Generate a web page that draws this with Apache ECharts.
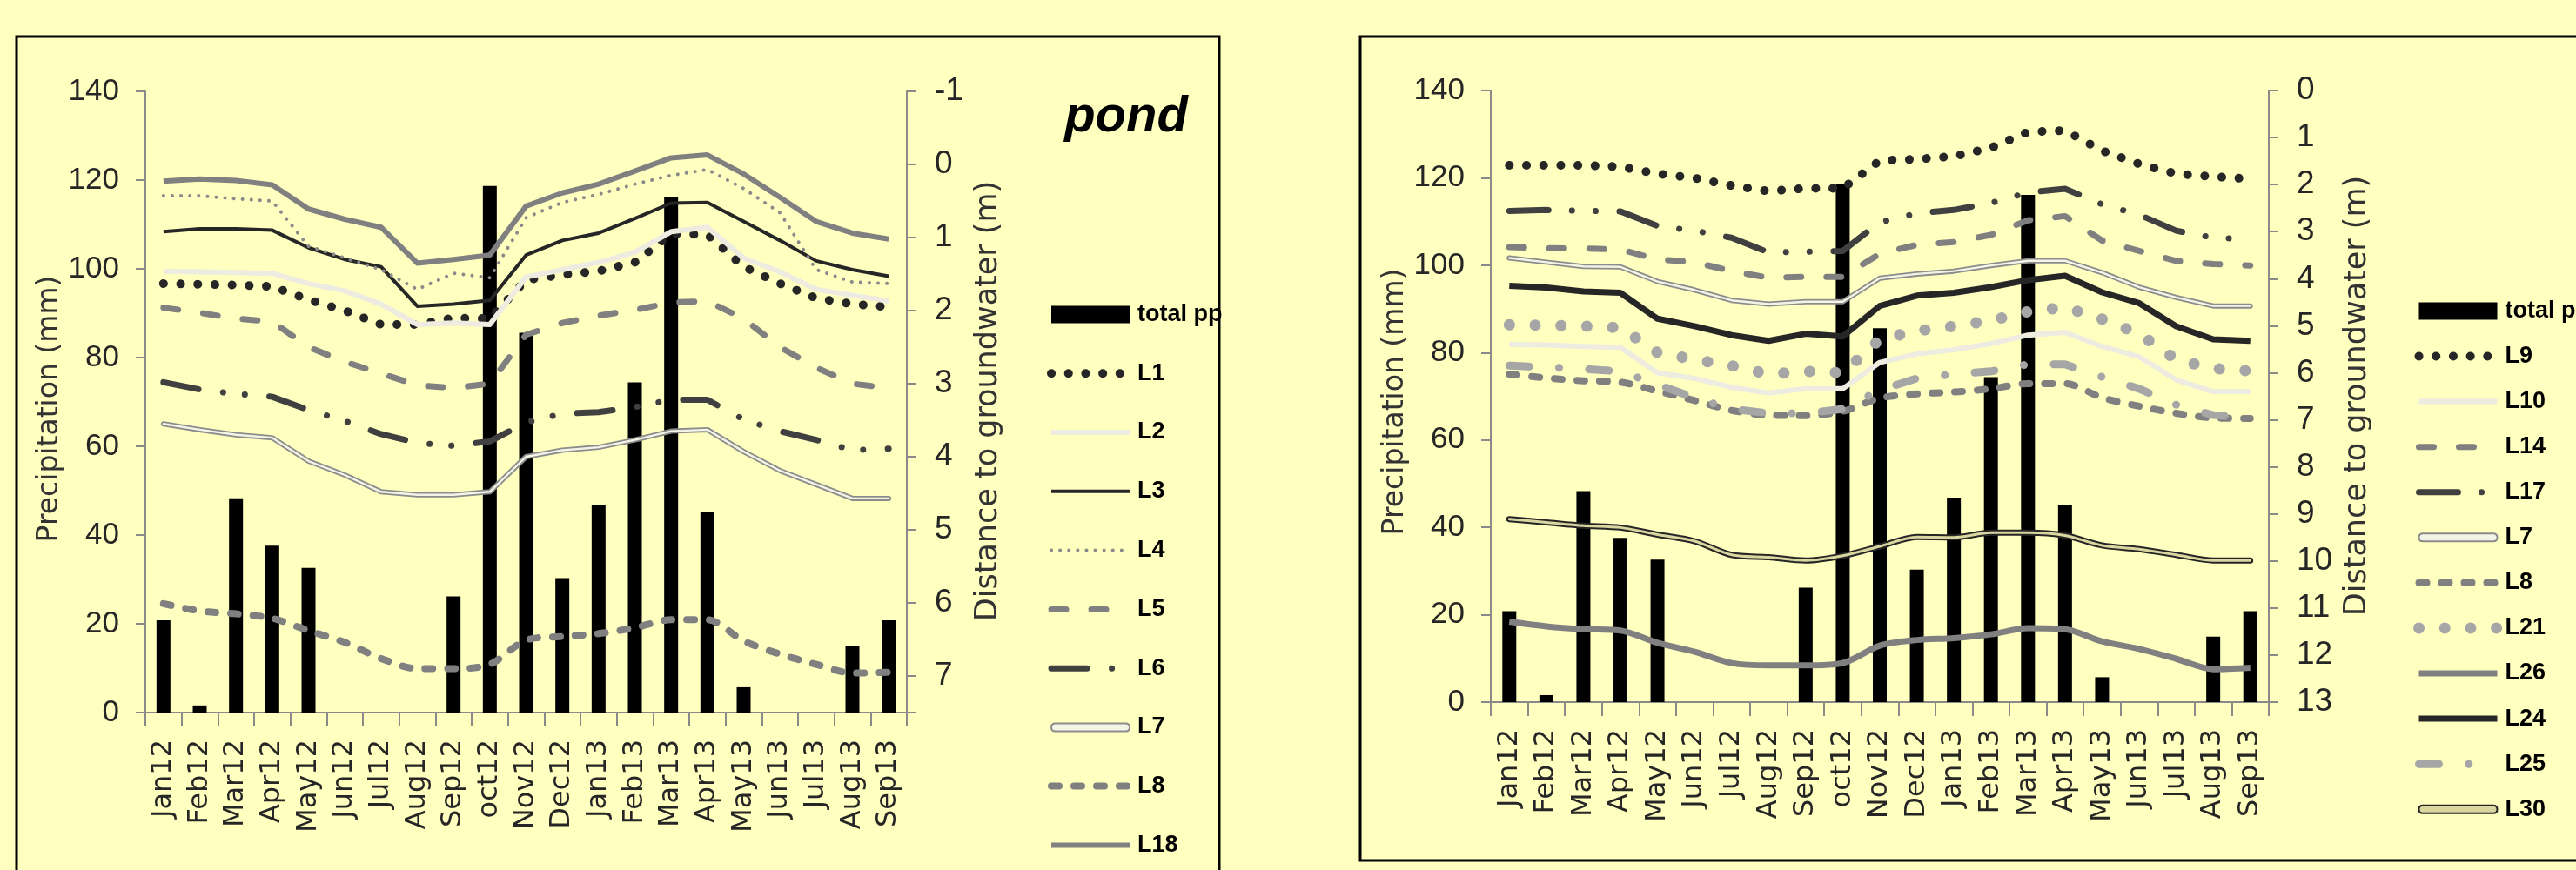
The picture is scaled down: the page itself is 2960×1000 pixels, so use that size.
<!DOCTYPE html>
<html>
<head>
<meta charset="utf-8">
<script src="https://cdn.jsdelivr.net/npm/echarts@6/dist/echarts.min.js"></script>
<style>
html,body{margin:0;padding:0;background:#FFFFC0;}
#chart{width:2960px;height:1000px;}
</style>
</head>
<body>
<div id="chart"></div>
<script>
// ---------------- DATA ----------------
const categories = ['Jan12','Feb12','Mar12','Apr12','May12','Jun12','Jul12','Aug12','Sep12','oct12','Nov12','Dec12','Jan13','Feb13','Mar13','Apr13','May13','Jun13','Jul13','Aug13','Sep13'];

// total precipitation (mm)
const totalPP = [20.8,1.6,48.3,37.6,32.6,0,0,0,26.2,118.7,85.6,30.3,46.8,74.4,116.1,45.1,5.7,0,0,15.0,20.8];

// tick labels
const precipTicks = [0,20,40,60,80,100,120,140];
const pondDepthTicks = [-1,0,1,2,3,4,5,6,7];
const pondDepthMax = 7.5;
const siteDepthTicks = [0,1,2,3,4,5,6,7,8,9,10,11,12,13];

// pond panel: distance to groundwater (m)
const pondL1  = [1.63,1.64,1.65,1.67,1.85,2.00,2.19,2.19,2.10,2.11,1.58,1.51,1.46,1.34,0.95,0.96,1.40,1.63,1.83,1.91,1.95];
const pondL2  = [1.46,1.47,1.48,1.49,1.63,1.73,1.91,2.19,2.17,2.19,1.54,1.44,1.34,1.20,0.92,0.86,1.28,1.47,1.71,1.79,1.87];
const pondL3  = [0.92,0.88,0.88,0.90,1.14,1.30,1.40,1.94,1.91,1.86,1.24,1.04,0.94,0.74,0.53,0.52,0.78,1.04,1.32,1.44,1.53];
const pondL4  = [0.43,0.43,0.47,0.50,1.12,1.28,1.44,1.71,1.49,1.55,0.73,0.52,0.41,0.27,0.15,0.07,0.33,0.66,1.44,1.61,1.63];
const pondL5  = [1.96,2.03,2.11,2.15,2.50,2.70,2.86,3.02,3.06,3.00,2.33,2.17,2.07,1.99,1.89,1.87,2.11,2.50,2.78,3.00,3.06];
const pondL6  = [2.98,3.08,3.14,3.18,3.36,3.51,3.69,3.81,3.85,3.79,3.53,3.41,3.39,3.32,3.22,3.22,3.49,3.65,3.77,3.91,3.89];
const pondL7  = [3.55,3.63,3.70,3.74,4.06,4.25,4.48,4.52,4.52,4.48,4.00,3.91,3.87,3.77,3.65,3.63,3.93,4.19,4.38,4.57,4.57];
const pondL8  = [6.01,6.11,6.15,6.21,6.38,6.54,6.76,6.90,6.90,6.84,6.51,6.46,6.42,6.34,6.23,6.23,6.52,6.70,6.84,6.96,6.95];
const pondL18 = [0.23,0.20,0.22,0.28,0.61,0.75,0.86,1.35,1.30,1.24,0.57,0.39,0.27,0.09,-0.09,-0.13,0.13,0.45,0.78,0.94,1.02];

// second panel: distance to groundwater (m)
const siteL9  = [1.59,1.59,1.59,1.62,1.77,1.86,2.02,2.14,2.08,2.08,1.49,1.46,1.40,1.22,0.88,0.85,1.28,1.56,1.77,1.83,1.88];
const siteL10 = [5.40,5.41,5.44,5.46,6.00,6.12,6.31,6.43,6.34,6.34,5.78,5.60,5.51,5.38,5.20,5.14,5.44,5.66,6.15,6.40,6.40];
const siteL14 = [3.33,3.35,3.36,3.38,3.59,3.65,3.84,3.98,3.96,3.96,3.47,3.28,3.22,3.07,2.76,2.67,3.19,3.41,3.62,3.69,3.72];
const siteL17 = [2.56,2.54,2.56,2.57,2.88,2.98,3.13,3.44,3.43,3.41,2.80,2.61,2.54,2.39,2.17,2.09,2.42,2.64,2.98,3.13,3.16];
const siteL7  = [3.56,3.65,3.74,3.75,4.06,4.24,4.46,4.54,4.49,4.49,3.99,3.90,3.84,3.72,3.62,3.62,3.87,4.18,4.40,4.58,4.58];
const siteL8  = [6.03,6.11,6.17,6.20,6.39,6.59,6.80,6.90,6.91,6.82,6.54,6.45,6.41,6.34,6.23,6.23,6.53,6.71,6.86,6.96,6.97];
const siteL21 = [4.98,4.99,5.01,5.04,5.57,5.72,5.85,6.03,5.97,6.00,5.29,5.11,5.01,4.89,4.70,4.61,4.86,5.17,5.72,5.91,5.96];
const siteL26 = [11.29,11.39,11.45,11.48,11.74,11.93,12.17,12.22,12.22,12.17,11.80,11.68,11.64,11.56,11.43,11.45,11.71,11.87,12.08,12.30,12.27];
const siteL24 = [4.15,4.19,4.27,4.30,4.85,5.01,5.20,5.32,5.17,5.23,4.58,4.36,4.30,4.18,4.03,3.94,4.29,4.52,5.01,5.29,5.32];
const siteL25 = [5.85,5.88,5.92,5.97,6.25,6.53,6.77,6.86,6.86,6.77,6.37,6.12,6.03,5.97,5.82,5.82,6.09,6.34,6.68,6.90,6.96];
const siteL30 = [9.11,9.18,9.25,9.29,9.44,9.58,9.87,9.92,9.99,9.89,9.69,9.49,9.50,9.40,9.40,9.46,9.67,9.75,9.87,9.99,9.99];

// ---------------- STYLES ----------------
const ST = {
  bigDots:   {color:'#262626', width:10, type:[0.1,19.6], cap:'round'},
  offWhite:  {color:'#EEECE1', width:6},
  black:     {color:'#262626', width:4},
  blackThick:{color:'#262626', width:7},
  smallDots: {color:'#8A8A8A', width:4, type:[0.1,10], cap:'round'},
  dash:      {color:'#808080', width:7, type:[17,29], cap:'round'},
  dashDot2:  {color:'#404040', width:7, type:[41,28.5,0.1,25,0.1,28.3], cap:'round'},
  dashDot2b: {color:'#404040', width:7, type:[45,27,0.1,27,0.1,27.5], cap:'round'},
  shortDash: {color:'#808080', width:8, type:[9,17], cap:'round'},
  grayLine:  {color:'#808080', width:6},
  grayThick: {color:'#808080', width:7},
  lightDots: {color:'#A6A6A6', width:13, type:[0.1,29.6], cap:'round'},
  lightDashDot: {color:'#A6A6A6', width:9, type:[23,34.2,0.1,34.4], cap:'round'}
};
const DBL_GRAY = {outer:'#8C8C8C', inner:'#F4F4E6', ow:6, iw:2.4};
const DBL_DARK = {outer:'#262626', inner:'#D9D6A0', ow:7, iw:3};
const DBL_ICON = 'path://M4.5,0L85.5,0Q90,0,90,4.5Q90,9,85.5,9L4.5,9Q0,9,0,4.5Q0,0,4.5,0Z';
const BAR_ICON = 'path://M0,0L90,0L90,20L0,20Z';

const AXIS_GRAY = '#8A8A8A';
const TXT = '#262626';
const SANS = 'Liberation Sans';

function line(name, data, st, xi, yi, smooth) {
  return {
    type:'line', name, data, xAxisIndex:xi, yAxisIndex:yi,
    symbol:'none', smooth: smooth || false, silent:true,
    lineStyle:{color:st.color, width:st.width, type:st.type || 'solid', cap:st.cap || 'butt', join:'round'},
    itemStyle:{color:st.color},
    emphasis:{disabled:true}
  };
}
function dbl(name, data, d, xi, yi, smooth) {
  return [
    line(name, data, {color:d.outer, width:d.ow, cap:'round'}, xi, yi, smooth),
    line(name + ' inner', data, {color:d.inner, width:d.iw, cap:'round'}, xi, yi, smooth)
  ];
}
function bars(xi, yi) {
  return {type:'bar', name:'total pp', data:totalPP, xAxisIndex:xi, yAxisIndex:yi,
    barWidth:16, itemStyle:{color:'#000'}, silent:true, emphasis:{disabled:true}};
}

const series = [
  bars(0,0),
  line('L1', pondL1, ST.bigDots, 0,1),
  line('L2', pondL2, ST.offWhite, 0,1),
  line('L3', pondL3, ST.black, 0,1),
  line('L4', pondL4, ST.smallDots, 0,1),
  line('L5', pondL5, ST.dash, 0,1),
  line('L6', pondL6, ST.dashDot2, 0,1),
  ...dbl('L7', pondL7, DBL_GRAY, 0,1),
  line('L8', pondL8, ST.shortDash, 0,1, 0.3),
  line('L18', pondL18, ST.grayLine, 0,1),

  bars(1,2),
  line('L9', siteL9, ST.bigDots, 1,3),
  line('L10', siteL10, ST.offWhite, 1,3),
  line('L14', siteL14, ST.dash, 1,3),
  line('L17', siteL17, ST.dashDot2b, 1,3),
  ...dbl('L7', siteL7, DBL_GRAY, 1,3),
  line('L8', siteL8, ST.shortDash, 1,3, 0.3),
  line('L21', siteL21, ST.lightDots, 1,3),
  line('L26', siteL26, ST.grayThick, 1,3, 0.3),
  line('L24', siteL24, ST.blackThick, 1,3),
  line('L25', siteL25, ST.lightDashDot, 1,3),
  ...dbl('L30', siteL30, DBL_DARK, 1,3, 0.3)
];

function xAxis(gi) {
  return {
    gridIndex:gi, type:'category', data:categories, boundaryGap:true,
    axisLine:{onZero:false, lineStyle:{color:AXIS_GRAY, width:2}},
    axisTick:{show:true, interval:0, length:16, lineStyle:{color:AXIS_GRAY, width:2}},
    axisLabel:{interval:0, rotate:90, margin:31, fontFamily:'DejaVu Sans', fontSize:32, color:TXT},
    splitLine:{show:false}
  };
}
function yAxis(gi, pos, ticks, opts) {
  return Object.assign({
    gridIndex:gi, type:'value', position:pos,
    min:ticks[0], max:ticks[ticks.length-1], interval:ticks[1]-ticks[0],
    axisLine:{show:true, onZero:false, lineStyle:{color:AXIS_GRAY, width:2}},
    axisTick:{show:true, length:11, lineStyle:{color:AXIS_GRAY, width:2}},
    axisLabel:{margin: pos === 'left' ? 30 : 32, fontFamily:SANS, fontSize: pos === 'left' ? 35 : 37, color:TXT,
      formatter: v => (Number.isInteger(v) ? String(v) : '')},
    splitLine:{show:false}
  }, opts || {});
}

function legendData(names, dblNames) {
  return names.map(n => {
    if (n === 'total pp') return {name:n, icon:BAR_ICON, itemStyle:{color:'#000', opacity:1}};
    if (dblNames[n]) return {name:n, icon:DBL_ICON, itemStyle:{color:dblNames[n].inner, borderColor:dblNames[n].outer, borderWidth:2, opacity:1}};
    return n;
  });
}
const legendText = {fontFamily:SANS, fontWeight:'bold', fontSize:27, color:'#000', padding:[0,0,0,4]};
const legendLine = {width:'inherit', type:'inherit', cap:'inherit', color:'inherit'};

const option = {
  backgroundColor:'#FFFFC0',
  animation:false,
  grid:[
    {left:167, top:105, width:875, height:714},
    {left:1713, top:104, width:894, height:703}
  ],
  xAxis:[xAxis(0), xAxis(1)],
  yAxis:[
    yAxis(0,'left',precipTicks),
    yAxis(0,'right',pondDepthTicks,{inverse:true, max:pondDepthMax}),
    yAxis(1,'left',precipTicks),
    yAxis(1,'right',siteDepthTicks,{inverse:true})
  ],
  legend:[
    {orient:'vertical', left:1203, top:348, padding:0, itemWidth:90, itemHeight:34, itemGap:40.6,
     selectedMode:false, textStyle:legendText, lineStyle:legendLine, itemStyle:{opacity:0},
     data:legendData(['total pp','L1','L2','L3','L4','L5','L6','L7','L8','L18'], {L7:DBL_GRAY})},
    {orient:'vertical', left:2773, top:344, padding:0, itemWidth:90, itemHeight:34, itemGap:24.9,
     selectedMode:false, textStyle:legendText, lineStyle:legendLine, itemStyle:{opacity:0},
     data:legendData(['total pp','L9','L10','L14','L17','L7','L8','L21','L26','L24','L25','L30'], {L7:DBL_GRAY, L30:DBL_DARK})}
  ],
  graphic:[
    {type:'rect', silent:true, shape:{x:19, y:42, width:1382, height:1020}, style:{fill:'none', stroke:'#000', lineWidth:3}},
    {type:'rect', silent:true, shape:{x:1563, y:42, width:1460, height:947}, style:{fill:'none', stroke:'#000', lineWidth:3}},
    {type:'text', silent:true, x:1294, y:135, style:{text:'pond', fontFamily:SANS, fontWeight:'bold', fontStyle:'italic', fontSize:58, fill:'#000', align:'center', verticalAlign:'middle'}},
    {type:'text', silent:true, x:57, y:470, rotation:Math.PI/2, style:{text:'Precipitation (mm)', fontFamily:'DejaVu Sans', fontSize:33, fill:'#333', align:'center', verticalAlign:'middle'}},
    {type:'text', silent:true, x:1136, y:461, rotation:Math.PI/2, style:{text:'Distance to groundwater (m)', fontFamily:'DejaVu Sans', fontSize:35, fill:'#333', align:'center', verticalAlign:'middle'}},
    {type:'text', silent:true, x:1603, y:462, rotation:Math.PI/2, style:{text:'Precipitation (mm)', fontFamily:'DejaVu Sans', fontSize:33, fill:'#333', align:'center', verticalAlign:'middle'}},
    {type:'text', silent:true, x:2709, y:455, rotation:Math.PI/2, style:{text:'Distance to groundwater (m)', fontFamily:'DejaVu Sans', fontSize:35, fill:'#333', align:'center', verticalAlign:'middle'}}
  ],
  series
};

const chart = echarts.init(document.getElementById('chart'), null, {renderer:'canvas'});
chart.setOption(option);
</script>
</body>
</html>
